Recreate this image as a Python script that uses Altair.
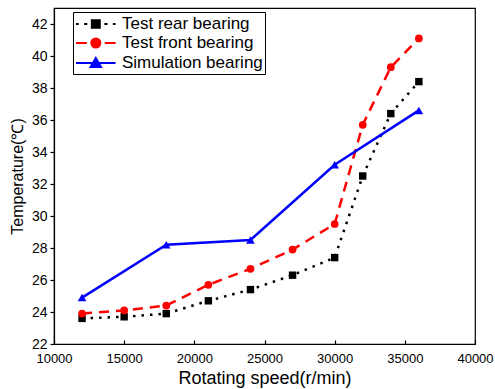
import altair as alt
import pandas as pd

# ---- data ----
speed_test = [12000, 15000, 18000, 21000, 24000, 27000, 30000, 32000, 34000, 36000]
rear_temp = [23.6, 23.7, 23.9, 24.7, 25.4, 26.3, 27.4, 32.5, 36.4, 38.4]
front_temp = [23.9, 24.1, 24.4, 25.7, 26.7, 27.9, 29.5, 35.7, 39.3, 41.1]
speed_sim = [12000, 18000, 24000, 30000, 36000]
sim_temp = [24.9, 28.2, 28.5, 33.2, 36.6]

series_names = ["Test rear bearing", "Test front bearing", "Simulation bearing"]
series_colors = ["#000000", "#ff0000", "#0000ff"]
x_tick_values = [10000, 15000, 20000, 25000, 30000, 35000, 40000]
y_tick_values = [22, 24, 26, 28, 30, 32, 34, 36, 38, 40, 42]

FONT = "Liberation Sans"
W, H = 421, 336

rear_df = pd.DataFrame({"speed": speed_test, "temp": rear_temp})
front_df = pd.DataFrame({"speed": speed_test, "temp": front_temp})
sim_df = pd.DataFrame({"speed": speed_sim, "temp": sim_temp})
legend_df = pd.DataFrame({"series": series_names})

x_scale = alt.Scale(domain=[10000, 40000], nice=False, zero=False)
y_scale = alt.Scale(domain=[22, 43], nice=False, zero=False)

x_bottom = alt.Axis(
    values=x_tick_values, format="d", tickSize=0, labelFontSize=13, labelPadding=8,
    labelOverlap=False, labelFlush=False, title="Rotating speed(r/min)",
    titleFontSize=18, titlePadding=4, titleFontWeight="normal", grid=False,
)
x_top = alt.Axis(
    orient="top", offset=-H, values=x_tick_values, labels=False, domain=False,
    ticks=True, tickSize=4, title=None, grid=False,
)
y_axis = alt.Axis(
    values=y_tick_values, format="d", tickSize=4, labelFontSize=14, labelPadding=3,
    title="Temperature(℃)", titleFontSize=16, titlePadding=6,
    titleFontWeight="normal", grid=False,
)


def enc(df, axis_x):
    return alt.Chart(df).encode(
        x=alt.X("speed:Q", scale=x_scale, axis=axis_x),
        y=alt.Y("temp:Q", scale=y_scale, axis=y_axis),
    )


rear_line = enc(rear_df, x_bottom).mark_line(
    color=series_colors[0], strokeWidth=2.5, strokeDash=[2.5, 6])
rear_pts = enc(rear_df, x_top).mark_point(
    shape="square", filled=True, size=55, color=series_colors[0], opacity=1)
front_line = enc(front_df, None).mark_line(
    color=series_colors[1], strokeWidth=2.5, strokeDash=[10, 7])
front_pts = enc(front_df, None).mark_point(
    shape="circle", filled=True, size=60, color=series_colors[1], opacity=1)
sim_line = enc(sim_df, None).mark_line(
    color=series_colors[2], strokeWidth=2.5)
sim_pts = enc(sim_df, None).mark_point(
    shape="triangle-up", filled=True, size=75, color=series_colors[2], opacity=1)

# legend symbols: line segment + marker, as custom paths (units = 9 px)
legend_paths = [
    "M-1,0H-0.7M-0.1,0H0.25M0.76,-0.42H1.64V0.42H0.76ZM2.15,0H2.5M3.1,0H3.4",
    "M-1,0H0.2M0.7,0A0.5,0.5 0 1,0 1.7,0A0.5,0.5 0 1,0 0.7,0ZM2.2,0H3.4",
    "M-1,0H3.4M1.2,-0.55L1.78,0.45H0.62Z",
]
legend_layer = alt.Chart(legend_df).mark_point(size=324, strokeWidth=2, opacity=1).encode(
    x=alt.value(-1000),
    y=alt.value(-1000),
    shape=alt.Shape("series:N", scale=alt.Scale(domain=series_names, range=legend_paths),
                    legend=alt.Legend(title=None)),
    fill=alt.Fill("series:N", scale=alt.Scale(domain=series_names, range=series_colors),
                  legend=alt.Legend(title=None)),
    stroke=alt.Stroke("series:N", scale=alt.Scale(domain=series_names, range=series_colors),
                      legend=alt.Legend(title=None)),
)

chart = alt.layer(
    rear_line, front_line, sim_line, rear_pts, front_pts, sim_pts, legend_layer
).resolve_axis(x="independent").properties(
    width=W, height=H,
    autosize=alt.AutoSizeParams(type="none"),
    padding={"left": 54, "top": 8, "right": 20, "bottom": 45},
    background="white",
).configure_view(
    stroke="black", strokeWidth=1.2,
).configure_axis(
    labelFont=FONT, titleFont=FONT, labelColor="black", titleColor="black",
    domainColor="black", tickColor="black", domainWidth=1.2, tickWidth=1.2,
).configure_legend(
    orient="none", legendX=19, legendY=4, padding=2,
    strokeColor="black", fillColor="white",
    labelFont=FONT, labelFontSize=17, labelColor="black", labelOffset=27,
    symbolSize=324, symbolStrokeWidth=2, rowPadding=1, symbolOffset=0,
    labelLimit=400,
)

chart.save("out.html", embed_options={"renderer": "svg", "actions": False})
